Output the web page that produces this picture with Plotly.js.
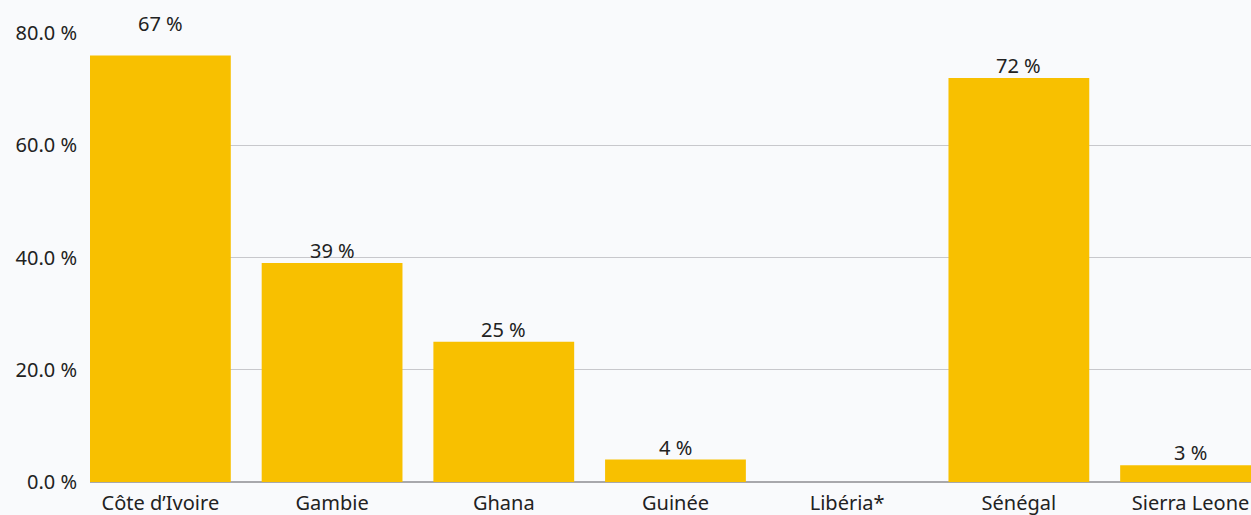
<!DOCTYPE html>
<html>
<head>
<meta charset="utf-8">
<script src="https://cdn.plot.ly/plotly-3.0.1.min.js"></script>
<style>html,body{margin:0;padding:0;background:#f9fafc;}#chart{width:1251px;height:515px;}</style>
</head>
<body>
<div id="chart"></div>
<script>
const categories = ["Côte d’Ivoire", "Gambie", "Ghana", "Guinée", "Libéria*", "Sénégal", "Sierra Leone"];
const barValues = [76, 39, 25, 4, null, 72, 3];
const barLabels = ["67 %", "39 %", "25 %", "4 %", "", "72 %", "3 %"];
const yTickValues = [0, 20, 40, 60, 80];
const yTickLabels = ["0.0 %", "20.0 %", "40.0 %", "60.0 %", "80.0 %"];

const font = "'Noto Sans', 'Open Sans', sans-serif";
const textColor = "#222222";
const fs = 20;

const annotations = categories.map((c, i) => ({
  x: c, y: barValues[i] || 0, text: barLabels[i], showarrow: false,
  xref: 'x', yref: 'y', yanchor: 'bottom', yshift: i === 0 ? 16 : -3,
  font: {family: font, size: fs, color: textColor}
})).filter(a => a.text);

const trace = {
  type: 'bar', x: categories, y: barValues,
  marker: {color: '#f8c000'},
  hoverinfo: 'skip'
};

const layout = {
  width: 1251, height: 515,
  margin: {l: 90, r: 0, t: 33, b: 33, pad: 0},
  paper_bgcolor: 'rgba(0,0,0,0)', plot_bgcolor: 'rgba(0,0,0,0)',
  bargap: 0.18,
  showlegend: false,
  xaxis: {
    type: 'category', range: [-0.41, 6.352], automargin: false,
    showgrid: false, zeroline: false, showline: false, ticks: '',
    ticklabelstandoff: 7,
    tickfont: {family: font, size: fs, color: textColor}, fixedrange: true
  },
  yaxis: {
    range: [0, 80], tickvals: yTickValues, ticktext: yTickLabels,
    automargin: false, showgrid: true, gridcolor: '#c8c8cc', gridwidth: 1,
    zeroline: true, zerolinecolor: '#a8a8ac', zerolinewidth: 1.5,
    showline: false, ticks: '', ticklabelstandoff: 12,
    tickfont: {family: font, size: fs, color: textColor}, fixedrange: true
  },
  annotations: annotations
};

Plotly.newPlot('chart', [trace], layout, {displayModeBar: false, staticPlot: true});
</script>
</body>
</html>
